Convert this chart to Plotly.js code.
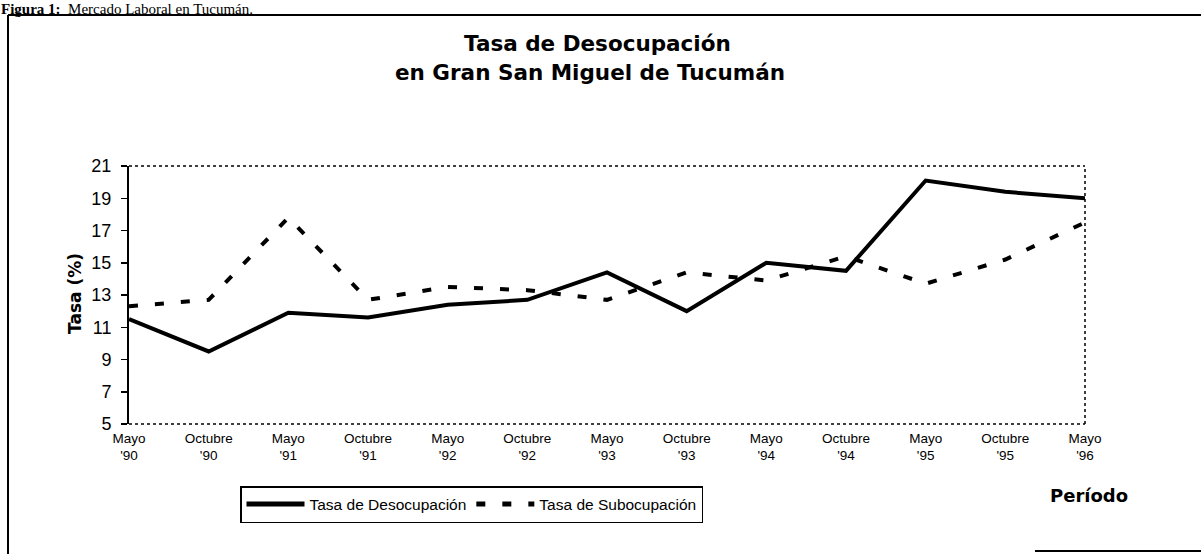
<!DOCTYPE html>
<html>
<head>
<meta charset="utf-8">
<script src="https://cdn.plot.ly/plotly-3.0.1.min.js"></script>
<style>html,body{margin:0;padding:0;background:#fff;}#chart{width:1201px;height:554px;}</style>
</head>
<body>
<div id="chart"></div>
<script>
const periods = ["Mayo<br>'90","Octubre<br>'90","Mayo<br>'91","Octubre<br>'91","Mayo<br>'92","Octubre<br>'92","Mayo<br>'93","Octubre<br>'93","Mayo<br>'94","Octubre<br>'94","Mayo<br>'95","Octubre<br>'95","Mayo<br>'96"];
const desocupacion = [11.5, 9.5, 11.9, 11.6, 12.4, 12.7, 14.4, 12.0, 15.0, 14.5, 20.1, 19.4, 19.0];
const subocupacion = [12.3, 12.7, 17.8, 12.7, 13.5, 13.3, 12.7, 14.4, 13.9, 15.4, 13.7, 15.2, 17.5];
const yTicks = [5, 7, 9, 11, 13, 15, 17, 19, 21];
const titleLines = ['Tasa de Desocupación', 'en Gran San Miguel de Tucumán'];

const W = 1201, H = 554, L = 129, R = 116, T = 166, B = 130;
const pw = W - L - R, ph = H - T - B;
const px = x => (x - L) / pw;
const py = y => (H - B - y) / ph;

const traces = [
  {x: periods, y: desocupacion, type: 'scatter', mode: 'lines', name: 'Tasa de Desocupación',
   line: {color: '#000', width: 4}},
  {x: periods, y: subocupacion, type: 'scatter', mode: 'lines', name: 'Tasa de Subocupación',
   line: {color: '#000', width: 4, dash: '9px,17px'}}
];

const titleFont = {size: 21.5, family: 'DejaVu Sans, Verdana, sans-serif', weight: 'bold', color: '#000'};
const boldLabelFont = {size: 17, family: 'DejaVu Sans, Verdana, sans-serif', weight: 'bold', color: '#000'};

const layout = {
  width: W, height: H,
  margin: {l: L, r: R, t: T, b: B, pad: 0},
  paper_bgcolor: '#fff', plot_bgcolor: '#fff',
  font: {family: 'Liberation Sans, Arial, sans-serif', color: '#000'},
  showlegend: true,
  legend: {orientation: 'h', x: px(240), y: py(486), xanchor: 'left', yanchor: 'top',
           bordercolor: '#000', borderwidth: 1.5, bgcolor: '#fff', itemwidth: 58,
           font: {size: 15.5, family: 'Liberation Sans, Arial, sans-serif', color: '#000'},
           tracegroupgap: 0, itemsizing: 'constant'},
  xaxis: {type: 'category', range: [0, 12], showgrid: false, zeroline: false, showline: false,
          ticks: '', tickfont: {size: 13.5, family: 'Liberation Sans, Arial, sans-serif', color: '#000'},
          ticklabelstandoff: 4, fixedrange: true},
  yaxis: {range: [5, 21], tickvals: yTicks, showgrid: false, zeroline: false,
          showline: true, linecolor: '#000', linewidth: 2, ticks: 'outside', ticklen: 6,
          tickcolor: '#000', tickwidth: 1.5, ticklabelstandoff: 6,
          tickfont: {size: 18, family: 'Liberation Sans, Arial, sans-serif', color: '#000'},
          fixedrange: true},
  shapes: [
    {type: 'line', xref: 'paper', yref: 'paper', x0: 0, x1: 1, y0: 1, y1: 1, line: {color: '#000', width: 1.5, dash: 'dot'}},
    {type: 'line', xref: 'paper', yref: 'paper', x0: 1, x1: 1, y0: 0, y1: 1, line: {color: '#000', width: 1.5, dash: 'dot'}},
    {type: 'line', xref: 'paper', yref: 'paper', x0: 0, x1: 1, y0: 0, y1: 0, line: {color: '#000', width: 1.5, dash: 'dot'}},
    {type: 'line', xref: 'paper', yref: 'paper', x0: px(8), x1: px(8), y0: py(15), y1: py(554), line: {color: '#000', width: 2}},
    {type: 'line', xref: 'paper', yref: 'paper', x0: px(8), x1: px(1201), y0: py(15), y1: py(15), line: {color: '#000', width: 2}},
    {type: 'line', xref: 'paper', yref: 'paper', x0: px(1035), x1: px(1201), y0: py(551), y1: py(551), line: {color: '#000', width: 2}}
  ],
  annotations: [
    {text: '<b>Figura 1:</b>  Mercado Laboral en Tucumán.', xref: 'paper', yref: 'paper',
     x: px(0), y: py(0), xanchor: 'left', yanchor: 'top', showarrow: false, borderpad: 0,
     font: {size: 15, family: 'Liberation Serif, Times New Roman, serif', color: '#000'}},
    {text: titleLines[0], xref: 'paper', yref: 'paper', x: px(597), y: py(43),
     xanchor: 'center', yanchor: 'middle', showarrow: false, font: titleFont},
    {text: titleLines[1], xref: 'paper', yref: 'paper', x: px(590), y: py(72),
     xanchor: 'center', yanchor: 'middle', showarrow: false, font: titleFont},
    {text: 'Tasa (%)', xref: 'paper', yref: 'paper', x: px(75), y: py(294),
     xanchor: 'center', yanchor: 'middle', textangle: -90, showarrow: false, font: boldLabelFont},
    {text: 'Período', xref: 'paper', yref: 'paper', x: px(1089), y: py(495),
     xanchor: 'center', yanchor: 'middle', showarrow: false,
     font: {size: 18, family: 'DejaVu Sans, Verdana, sans-serif', weight: 'bold', color: '#000'}}
  ]
};

Plotly.newPlot('chart', traces, layout, {displayModeBar: false, staticPlot: true});
</script>
</body>
</html>
